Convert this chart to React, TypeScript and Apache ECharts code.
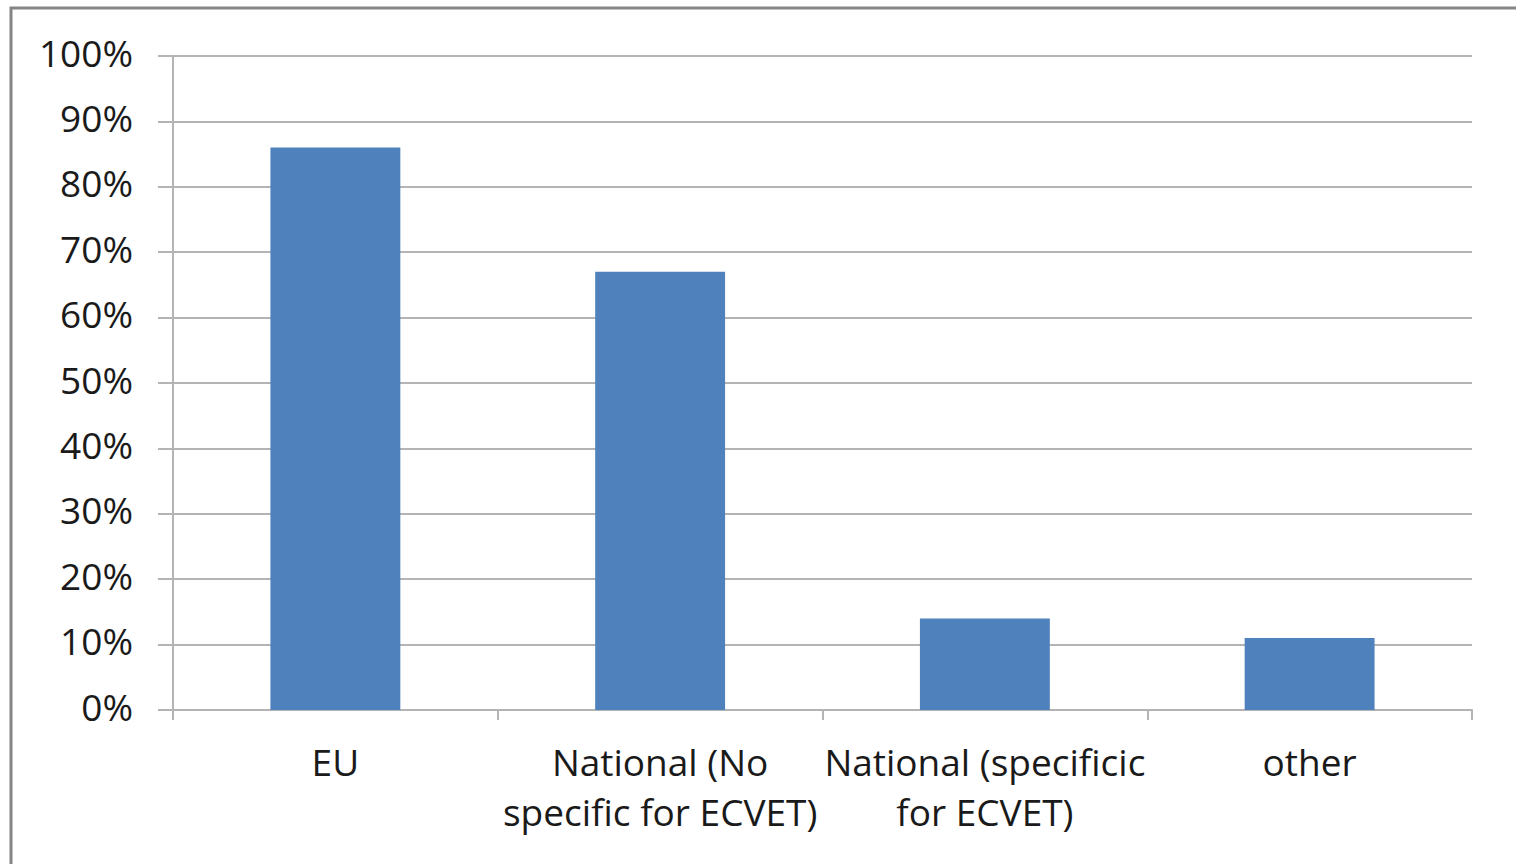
import React, { useEffect, useRef } from "react";
import * as echarts from "echarts";

const categories = [
  "EU",
  "National (No\nspecific for ECVET)",
  "National (specificic\nfor ECVET)",
  "other",
];
const values = [86, 67, 14, 11];
const yTicks = { min: 0, max: 100, interval: 10 };

export default function App() {
  const ref = useRef<HTMLDivElement>(null);
  useEffect(() => {
    if (!ref.current) return;
    const chart = echarts.init(ref.current, null, { renderer: "svg" });
    const font = "'Open Sans', 'Liberation Sans', sans-serif";
    chart.setOption({
      animation: false,
      backgroundColor: "#ffffff",
      graphic: [
        {
          type: "rect",
          shape: { x: 11, y: 8, width: 1600, height: 1000 },
          style: { fill: "none", stroke: "#858585", lineWidth: 3 },
          silent: true,
        },
      ],
      grid: { left: 173, right: 44, top: 56, bottom: 154 },
      xAxis: {
        type: "category",
        data: categories,
        axisLine: { show: true, lineStyle: { color: "#b4b4b4", width: 2 } },
        axisTick: { show: true, length: 10, lineStyle: { color: "#b4b4b4", width: 2 } },
        axisLabel: {
          interval: 0,
          margin: 26,
          fontFamily: font,
          fontSize: 37,
          lineHeight: 50,
          color: "#1a1a1a",
        },
      },
      yAxis: {
        type: "value",
        min: yTicks.min,
        max: yTicks.max,
        interval: yTicks.interval,
        axisLine: { show: true, lineStyle: { color: "#b4b4b4", width: 2 } },
        axisTick: { show: true, length: 15, lineStyle: { color: "#b4b4b4", width: 2 } },
        splitLine: { show: true, lineStyle: { color: "#b4b4b4", width: 2 } },
        axisLabel: {
          margin: 40,
          fontFamily: font,
          fontSize: 37,
          color: "#1a1a1a",
          formatter: (v: number) => "{a|" + v + "%}",
          rich: {
            a: {
              fontFamily: font,
              fontSize: 37,
              color: "#1a1a1a",
              padding: [0, 0, 8, 0],
            },
          },
        },
      },
      series: [
        {
          type: "bar",
          data: values,
          barWidth: "40%",
          itemStyle: { color: "#4f81bd" },
        },
      ],
    });
    return () => chart.dispose();
  }, []);
  return (
    <div
      ref={ref}
      style={{ position: "absolute", left: 0, top: 0, width: 1516, height: 864 }}
    />
  );
}
